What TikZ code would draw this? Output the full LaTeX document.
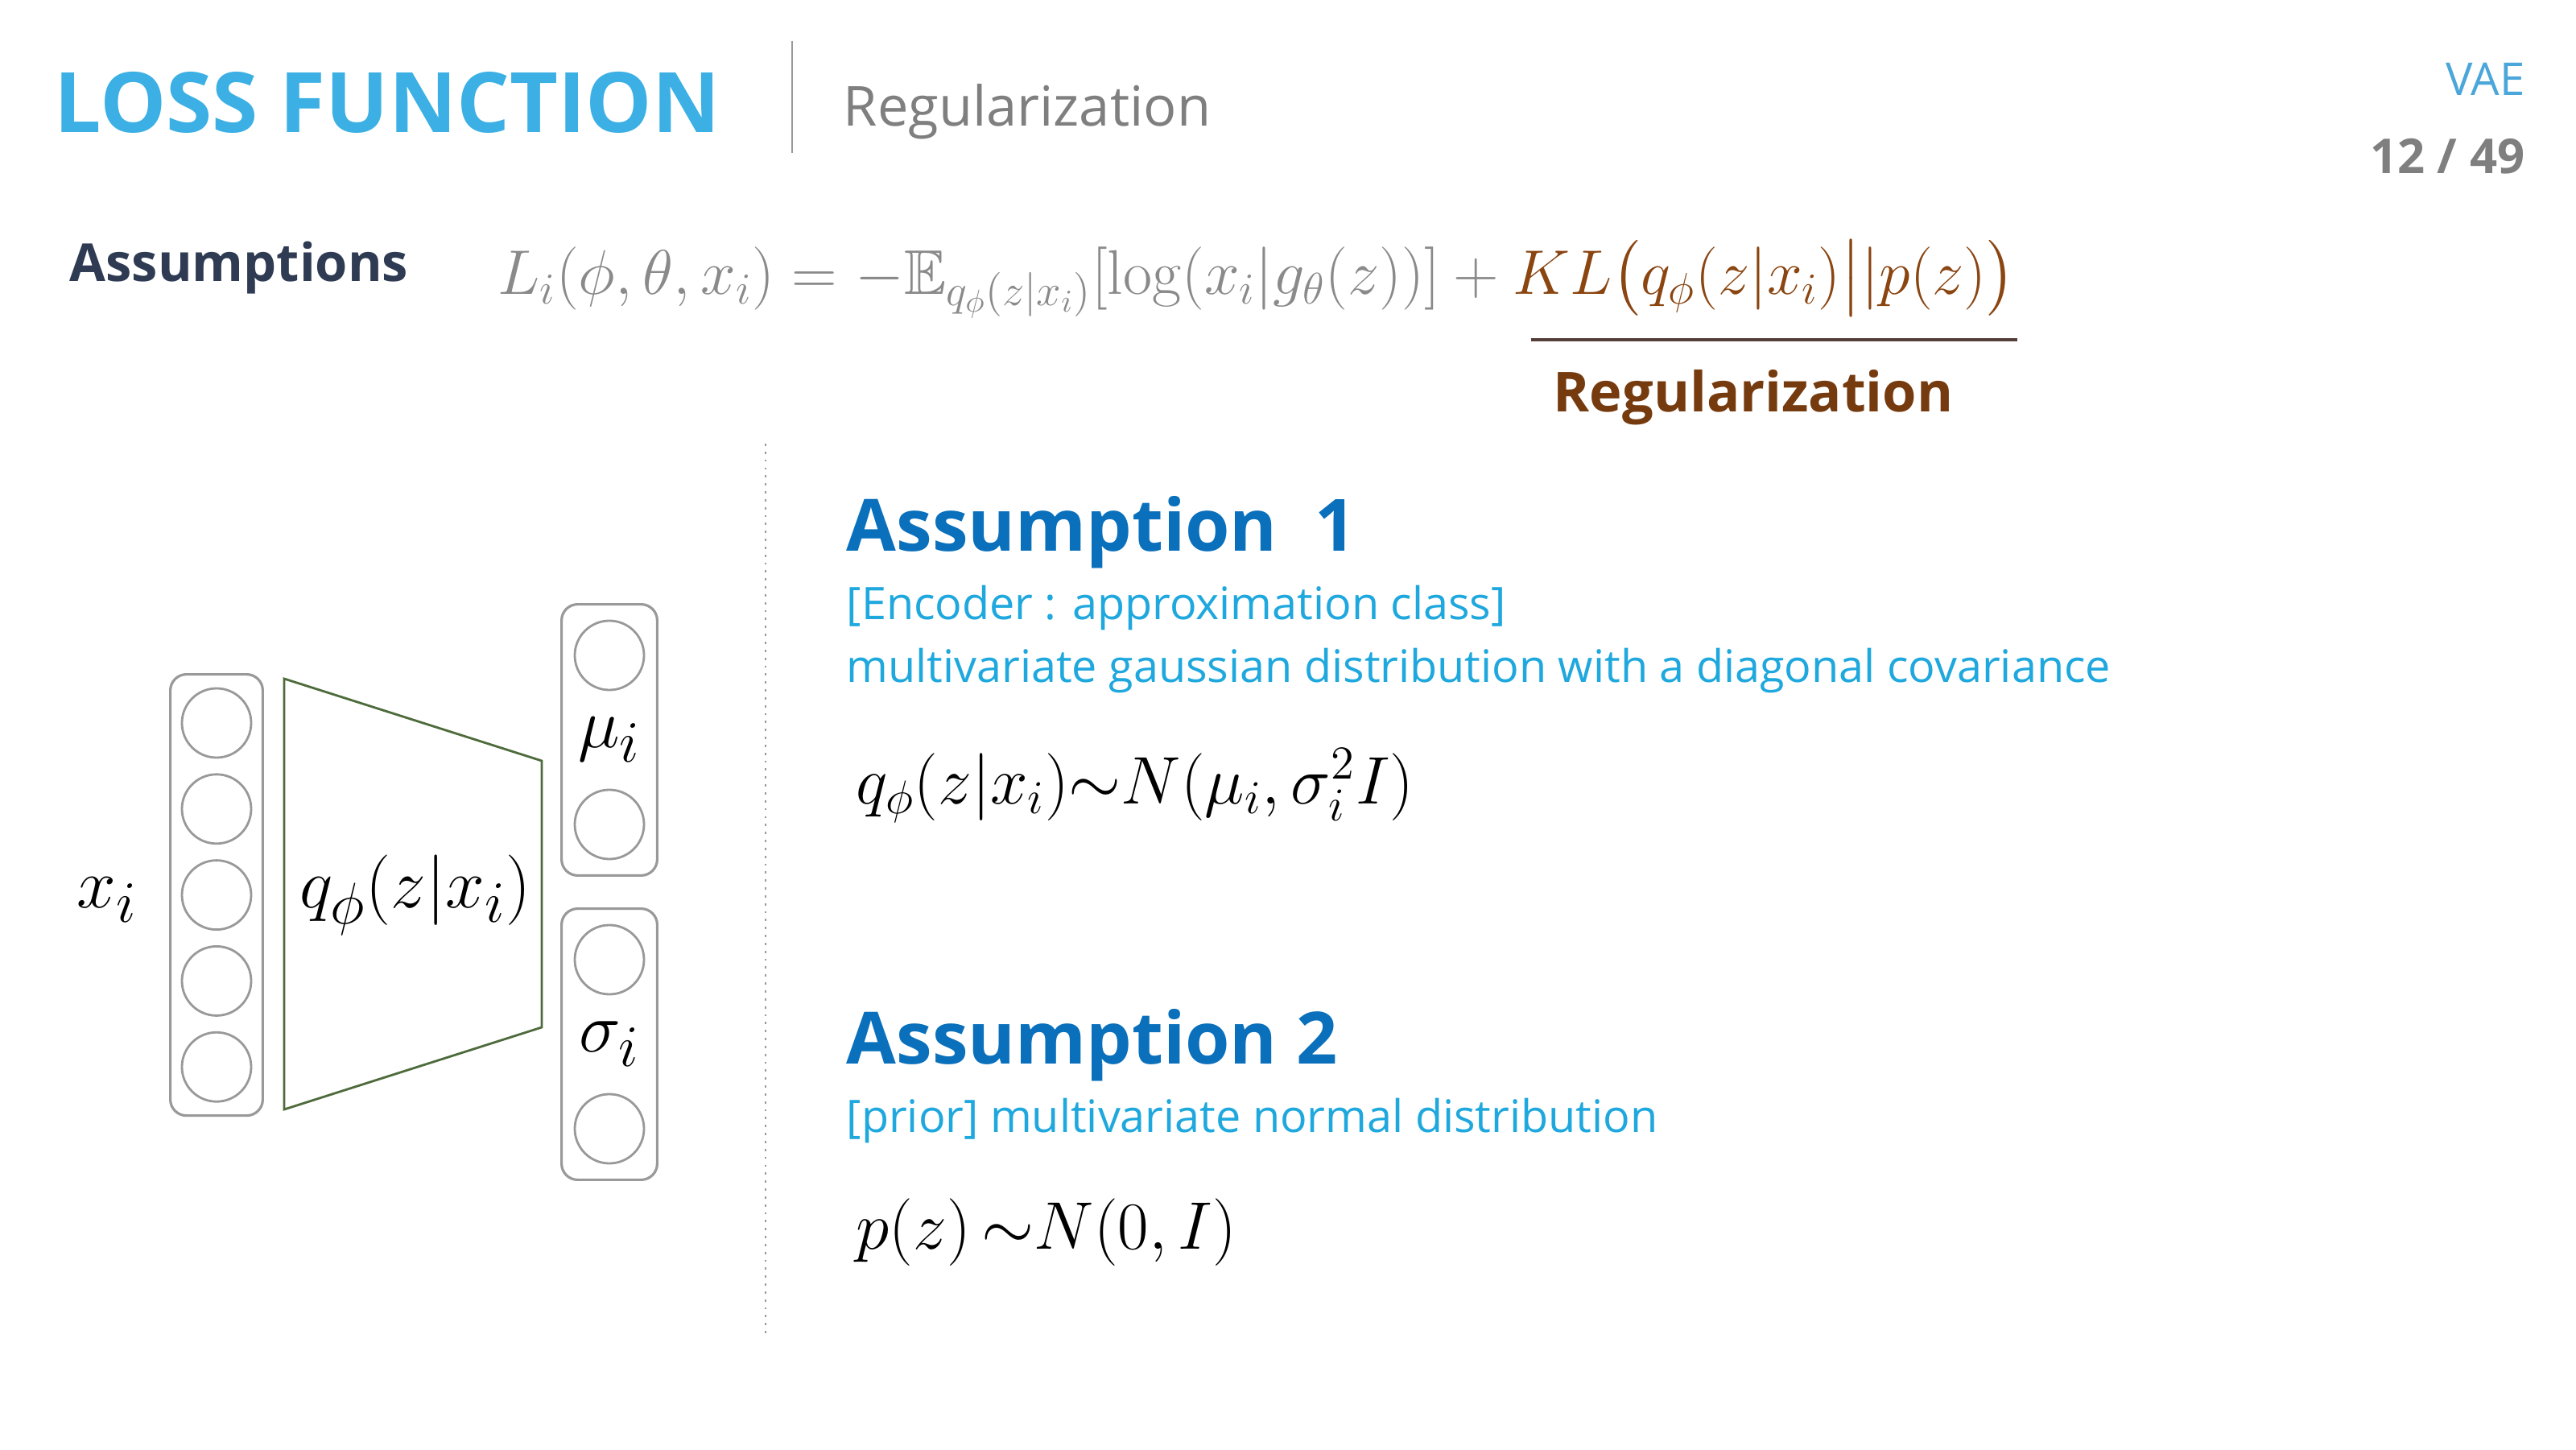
\RequirePackage{fix-cm}
\documentclass[tikz,border=0pt]{standalone}
\usepackage{amsmath,amssymb}
\usepackage[no-math]{fontspec}
\setmainfont{Open Sans}
\usetikzlibrary{positioning,fit,calc}
\definecolor{VaeSky}{HTML}{3CB0E4}
\definecolor{VaeGray}{HTML}{7F7F7F}
\definecolor{VaeTag}{HTML}{4BA6DA}
\definecolor{VaeNavy}{HTML}{2E3B52}
\definecolor{VaeFormula}{HTML}{8A8A8A}
\definecolor{VaeBrown}{HTML}{8A4511}
\definecolor{VaeDeep}{HTML}{0A70BC}
\definecolor{VaeCyan}{HTML}{1FA8DE}
\definecolor{VaeBox}{HTML}{999999}
\definecolor{VaeOlive}{HTML}{4E6B3C}

\begin{document}
\begin{tikzpicture}[
        node distance=1.8mm,
        head/.style={anchor=west,inner sep=0pt,font=\fontsize{29.5}{34}\selectfont\bfseries,text=VaeSky},
        sub/.style={anchor=west,inner sep=0pt,font=\fontsize{19.5}{24}\selectfont,text=VaeGray},
        tag/.style={anchor=east,inner sep=0pt,font=\fontsize{16}{20}\selectfont},
        big/.style={anchor=west,inner sep=0pt,font=\fontsize{25.5}{30}\selectfont\bfseries,text=VaeDeep},
        note/.style={anchor=west,inner sep=0pt,font=\fontsize{15.85}{19}\selectfont,text=VaeCyan},
        eq/.style={anchor=west,inner sep=0pt,font=\fontsize{23.8}{28}\selectfont},
        unit/.style={circle,draw=VaeBox,line width=0.8pt,minimum size=8.6mm,inner sep=0pt},
        col/.style={draw=VaeBox,line width=0.9pt,rounded corners=2mm,inner xsep=1.3mm,inner ysep=1.6mm},
        sym/.style={inner sep=0pt,font=\fontsize{24.88}{28}\selectfont}
      ]
        \useasboundingbox[fill=white] (0,0) rectangle (32,18);
        % header
        \node[head] (title) at (0.67,16.73) {LOSS FUNCTION};
        \node[sub] (topic) at (10.47,16.61) {Regularization};
        \draw[VaeBox,line width=0.8pt] (9.84,17.49) -- (9.84,16.10);
        \node[tag,text=VaeTag] (vae) at (31.37,17.02) {VAE};
        \node[tag,text=VaeGray,font=\fontsize{17}{20}\selectfont\bfseries] (page) at (31.37,16.06) {12 / 49};
        % loss
        \node[anchor=west,inner sep=0pt,font=\fontsize{18.5}{22}\selectfont\bfseries,text=VaeNavy] (assume) at (0.86,14.67) {Assumptions};
        \node[eq,font=\fontsize{22.3}{26}\selectfont,text=VaeFormula] (loss) at (6.18,14.53)
          {$L_i(\phi,\theta,x_i)=-\mathbb{E}_{q_\phi(z|x_i)}[\log(x_i|g_\theta(z))]+\textcolor{VaeBrown}{KL\bigl(q_\phi(z|x_i)\big||p(z)\bigr)}$};
        \draw[VaeNavy!60!VaeBrown,line width=1.2pt] (19.02,13.78) -- (25.06,13.78);
        \node[inner sep=0pt,font=\fontsize{19.5}{24}\selectfont\bfseries,text=VaeBrown!85!black] (reg) at (21.78,13.06) {Regularization};
        \draw[VaeBox,dotted,line width=0.8pt] (9.51,12.49) -- (9.51,1.37);
        % encoder
        \node[unit] (x1) at (2.69,9.02) {};
        \node[unit,below=of x1] (x2) {};
        \node[unit,below=of x2] (x3) {};
        \node[unit,below=of x3] (x4) {};
        \node[unit,below=of x4] (x5) {};
        \node[col,fit=(x1)(x5)] (xcol) {};
        \node[sym] (xlab) at (1.33,6.82) {$x_i$};
        \draw[VaeOlive,line width=0.8pt] (3.53,9.57) -- (6.73,8.55) -- (6.73,5.24) -- (3.53,4.22) -- cycle;
        \node[sym] (qlab) at (5.16,6.88) {$q_\phi(z|x_i)$};
        \node[unit] (m1) at (7.57,9.86) {};
        \node[unit] (m2) at (7.57,7.76) {};
        \node[col,fit=(m1)(m2),inner xsep=1.5mm,inner ysep=1.9mm] (mcol) {};
        \node[sym] (mlab) at ($(m1)!0.5!(m2)$) {$\mu_i$};
        \node[unit] (s1) at (7.57,6.08) {};
        \node[unit] (s2) at (7.57,3.98) {};
        \node[col,fit=(s1)(s2),inner xsep=1.5mm,inner ysep=1.9mm] (scol) {};
        \node[sym] (slab) at ($(s1)!0.5!(s2)$) {$\sigma_i$};
        % assumptions
        \node[big] (a1) at (10.51,11.39) {Assumption\ \ 1};
        \node[note] (a1cls) at (10.51,10.45) {[Encoder : approximation class]};
        \node[note] (a1txt) at (10.51,9.67) {multivariate gaussian distribution with a diagonal covariance};
        \node[eq] (a1eq) at (10.63,8.24) {$q_\phi(z|x_i){\sim}N(\mu_i,\sigma_i^2I)$};
        \node[big] (a2) at (10.51,5.02) {Assumption 2};
        \node[note] (a2txt) at (10.51,4.08) {[prior] multivariate normal distribution};
        \node[eq] (a2eq) at (10.63,2.69) {$p(z)\,{\sim}N(0,I)$};
      \end{tikzpicture}
\end{document}
